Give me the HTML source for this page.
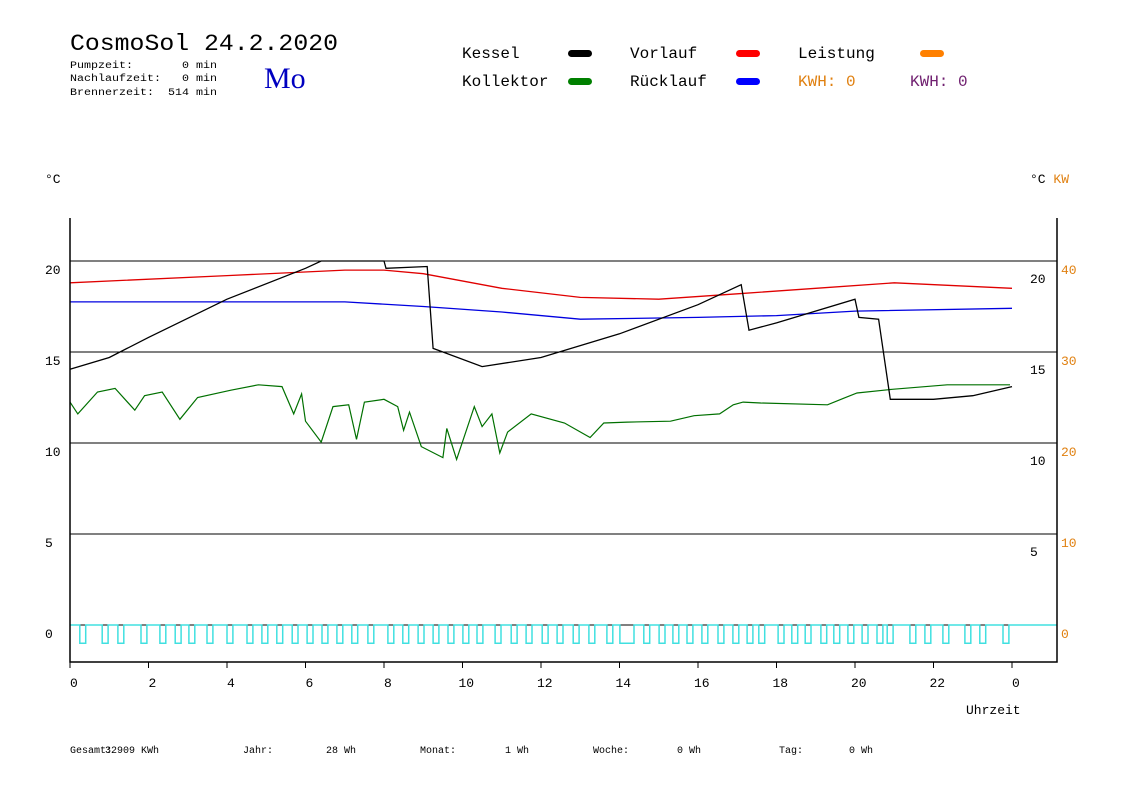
<!DOCTYPE html>
<html><head><meta charset="utf-8"><style>
body{margin:0;background:#fff;width:1148px;height:812px;overflow:hidden}
svg{display:block;font-family:"Liberation Mono","DejaVu Sans Mono",monospace}
</style></head><body>
<svg id="c" width="1148" height="812" viewBox="0 0 1148 812">
<g>
<text x="70" y="50" font-size="23" fill="#000" textLength="268" lengthAdjust="spacingAndGlyphs">CosmoSol 24.2.2020</text>
<text x="70" y="68" font-size="10" textLength="147" lengthAdjust="spacingAndGlyphs" xml:space="preserve">Pumpzeit:       0 min</text>
<text x="70" y="81" font-size="10" textLength="147" lengthAdjust="spacingAndGlyphs" xml:space="preserve">Nachlaufzeit:   0 min</text>
<text x="70" y="95" font-size="10" textLength="147" lengthAdjust="spacingAndGlyphs" xml:space="preserve">Brennerzeit:  514 min</text>
<text x="264" y="88" font-size="30" fill="#0000c0" font-family="Liberation Serif,serif">Mo</text>
</g>
<g font-size="16">
<text x="462" y="58">Kessel</text>
<rect x="568" y="50" width="24" height="7" rx="3.5" fill="#000"/>
<text x="462" y="86">Kollektor</text>
<rect x="568" y="78" width="24" height="7" rx="3.5" fill="#008000"/>
<text x="630" y="58">Vorlauf</text>
<rect x="736" y="50" width="24" height="7" rx="3.5" fill="#f00"/>
<text x="630" y="86">Rücklauf</text>
<rect x="736" y="78" width="24" height="7" rx="3.5" fill="#00f"/>
<text x="798" y="58">Leistung</text>
<rect x="920" y="50" width="24" height="7" rx="3.5" fill="#ff8000"/>
<text x="798" y="86" fill="#e08010">KWH: 0</text>
<text x="910" y="86" fill="#702070">KWH: 0</text>
</g>
<text x="45" y="183" font-size="13">°C</text>
<text x="1030" y="183" font-size="13">°C <tspan fill="#e08010">KW</tspan></text>
<text x="966" y="714" font-size="13">Uhrzeit</text>
<g id="grid"></g>
<g id="series"></g>
<g id="axes"></g>
<g font-size="10">
<text x="70" y="753">Gesamt:</text>
<text x="105" y="753">32909 KWh</text>
<text x="243" y="753">Jahr:</text>
<text x="326" y="753">28 Wh</text>
<text x="420" y="753">Monat:</text>
<text x="505" y="753">1 Wh</text>
<text x="593" y="753">Woche:</text>
<text x="677" y="753">0 Wh</text>
<text x="779" y="753">Tag:</text>
<text x="849" y="753">0 Wh</text>
</g>
</svg>
<script>
const yTicks=[0,5,10,15,20];
const kwTicks=[0,10,20,30,40];
const xTicks=[0,2,4,6,8,10,12,14,16,18,20,22,24];
const xTickLabels=["0","2","4","6","8","10","12","14","16","18","20","22","0"];
const kesselH=[0,1,2,4,6,6.4,8,8.05,9.1,9.25,9.5,10.5,12,14,16,17.1,17.3,18,20,20.1,20.6,20.9,22,23,24];
const kesselV=[14.05,14.7,15.8,17.9,19.6,20,20,19.6,19.7,15.2,15.0,14.2,14.7,16.0,17.6,18.7,16.2,16.6,17.9,16.9,16.8,12.4,12.4,12.6,13.1];
const vorlaufH=[0,4,7,8,9,11,13,15,17,19,21,24];
const vorlaufV=[18.8,19.2,19.5,19.5,19.3,18.5,18.0,17.9,18.2,18.5,18.8,18.5];
const ruecklaufH=[0,7,9,11,13,16,18,20,24];
const ruecklaufV=[17.75,17.75,17.5,17.2,16.8,16.9,17.0,17.25,17.4];
const kollH=[0,0.2,0.7,1.15,1.65,1.9,2.35,2.8,3.25,4.1,4.8,5.4,5.7,5.9,6.0,6.4,6.7,7.1,7.3,7.5,8.0,8.35,8.5,8.65,8.95,9.5,9.6,9.85,10.3,10.5,10.75,10.95,11.15,11.75,12.6,13.25,13.6,14.2,15.3,15.9,16.55,16.9,17.15,17.6,19.3,19.7,20.05,20.95,22.35,23.95];
const kollV=[12.25,11.6,12.8,13.0,11.8,12.6,12.8,11.3,12.5,12.9,13.2,13.1,11.6,12.7,11.2,10.05,12.0,12.1,10.2,12.25,12.4,12.0,10.7,11.7,9.8,9.2,10.8,9.1,12.0,10.9,11.6,9.45,10.6,11.6,11.1,10.3,11.1,11.15,11.2,11.5,11.6,12.1,12.25,12.2,12.1,12.45,12.75,12.95,13.2,13.2];
const pulseStart=[0.25,0.82,1.22,1.81,2.29,2.68,3.03,3.49,4.0,4.51,4.89,5.27,5.66,6.04,6.42,6.8,7.18,7.59,8.1,8.48,8.87,9.25,9.63,10.01,10.37,10.83,11.24,11.62,12.03,12.41,12.82,13.22,13.68,14.01,14.62,15.01,15.36,15.72,16.1,16.51,16.89,17.25,17.55,18.04,18.39,18.73,19.13,19.46,19.82,20.18,20.56,20.82,21.4,21.78,22.24,22.8,23.18,23.77];
const pulseLen=[0.15,0.15,0.15,0.15,0.15,0.15,0.15,0.15,0.15,0.15,0.15,0.15,0.15,0.15,0.15,0.15,0.15,0.15,0.15,0.15,0.15,0.15,0.15,0.15,0.15,0.15,0.15,0.15,0.15,0.15,0.15,0.15,0.15,0.36,0.15,0.15,0.15,0.15,0.15,0.15,0.15,0.15,0.15,0.15,0.15,0.15,0.15,0.15,0.15,0.15,0.15,0.15,0.15,0.15,0.15,0.15,0.15,0.15];
const pulseDepth=-1;
const NS="http://www.w3.org/2000/svg";
const L=70,R=1057,T=218,B=662;
const X=h=>L+h*39.25;
const Y=v=>625-v*18.2;
function mk(tag,attrs,parent){const e=document.createElementNS(NS,tag);for(const k in attrs)e.setAttribute(k,attrs[k]);parent.appendChild(e);return e;}
const grid=document.getElementById('grid'),ser=document.getElementById('series'),ax=document.getElementById('axes');
yTicks.forEach((v,i)=>{
 const g=mk('line',{x1:L,x2:R,y1:Y(v),y2:Y(v),stroke:'#000','stroke-width':1},grid);
 
 
 const t=mk('text',{x:45,y:Y(v)+13,'font-size':13},ax);t.textContent=v;
 
 
 if(v>0){const t2=mk('text',{x:1030,y:Y(v)+22,'font-size':13},ax);t2.textContent=v;
 
 }
 const t3=mk('text',{x:1061,y:Y(v)+13,'font-size':13,fill:'#e08010'},ax);t3.textContent=kwTicks[i];
 
 
});
const frame=mk('path',{d:`M${L},${T}V${B}H${R}V${T}`,fill:'none',stroke:'#000','stroke-width':1.5},ax);


xTicks.forEach((h,i)=>{
 const tk=mk('line',{x1:X(h),x2:X(h),y1:B,y2:B+6,stroke:'#000'},ax);
 
 
 const t=mk('text',{x:X(h)+(xTickLabels[i].length>1?-4:0),y:B+25,'font-size':13,'text-anchor':'start'},ax);t.textContent=xTickLabels[i];
 
 
});
function line(H,V,color,name,w){
 const d=H.map((h,i)=>(i?'L':'M')+X(h).toFixed(1)+','+Y(V[i]).toFixed(1)).join('');
 const p=mk('path',{d:d,fill:'none',stroke:color,'stroke-width':w||1.3},ser);
 
 
}
let pd='M'+X(0)+','+Y(0);
pulseStart.forEach((s,i)=>{pd+=`H${X(s).toFixed(1)}V${Y(pulseDepth).toFixed(1)}H${X(s+pulseLen[i]).toFixed(1)}V${Y(0)}`;});
pd+='H'+R;
const pp=mk('path',{d:pd,fill:'none',stroke:'#40e0e0','stroke-width':1.5},ser);


line(vorlaufH,vorlaufV,'#e00000','vorlauf-line');
line(ruecklaufH,ruecklaufV,'#0000e0','ruecklauf-line');
line(kollH,kollV,'#007000','kollektor-line',1.2);
line(kesselH,kesselV,'#000','kessel-line');
</script>
</body></html>
